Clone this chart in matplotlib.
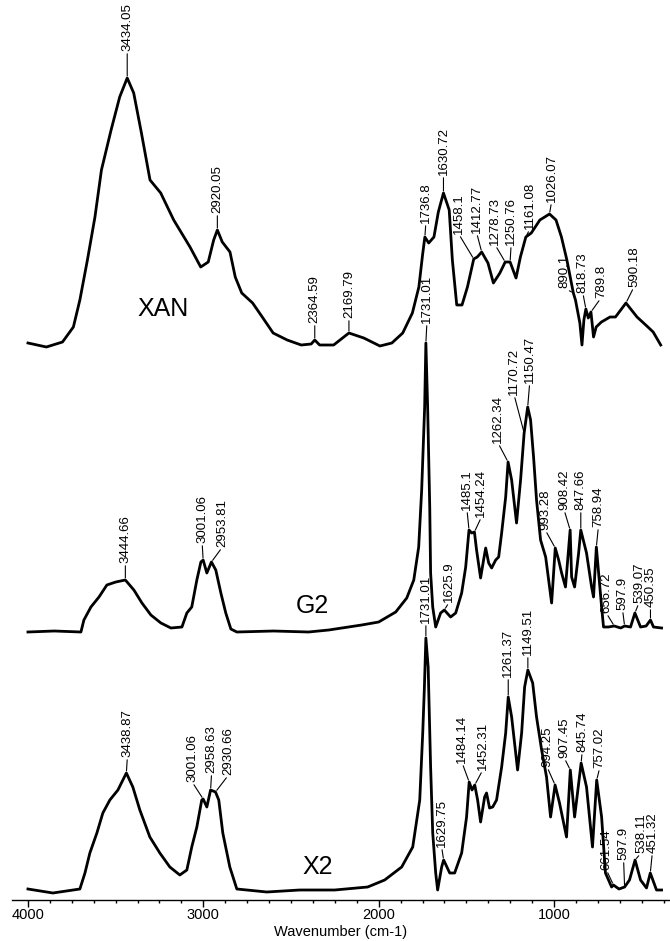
import numpy as np
import matplotlib
matplotlib.use('Agg')
import matplotlib.pyplot as plt
from matplotlib.ticker import MultipleLocator

plt.rcParams['font.family'] = ['Liberation Sans', 'DejaVu Sans']

# ---- XAN spectrum (wavenumber cm-1, intensity a.u.) ----
xan_wn = [4000, 3895, 3803, 3741, 3704, 3661, 3618, 3581, 3526, 3477, 3434.05, 3397, 3353, 3304,
          3243, 3169, 3076, 3015, 2972, 2941, 2920.05, 2892, 2848, 2818, 2781, 2719, 2664, 2602,
          2522, 2442, 2385, 2364.59, 2337, 2257, 2169.79, 2085, 1993, 1925, 1863, 1808, 1771, 1750,
          1736.8, 1715, 1685, 1660, 1630.72, 1598, 1580, 1555, 1525, 1494, 1458.1, 1438, 1412.77,
          1377, 1346, 1309, 1278.73, 1250.76, 1217, 1192, 1161.08, 1130, 1081, 1026.07, 989, 958,
          927, 890.1, 878, 853, 841, 830, 818.73, 805, 789.8, 775, 760, 730, 681, 650, 620, 590.18,
          527, 465, 435, 392]
xan_int = [2, -2, 3, 18, 45, 85, 128, 175, 215, 248, 267, 252, 212, 165,
           152, 125, 98, 78, 83, 105, 115, 103, 93, 68, 52, 42, 28, 12,
           5, 0, 1, 5, 0, 0, 12, 7, -1, 2, 12, 32, 58, 90,
           108, 102, 108, 133, 152, 135, 85, 40, 40, 58, 86, 88, 93,
           82, 62, 72, 83, 83, 67, 88, 108, 112, 125, 131, 125, 108,
           85, 52, 45, 22, 0, 25, 36, 27, 33, 8, 18, 23, 28, 28, 35, 42,
           28, 18, 13, 0]
xan_peaks = ['3434.05', '2920.05', '2364.59', '2169.79', '1736.8', '1630.72', '1458.1',
             '1412.77', '1278.73', '1250.76', '1161.08', '1026.07', '890.1', '818.73',
             '789.8', '590.18']

# ---- G2 spectrum ----
g2_wn = [4000, 3850, 3698, 3681, 3641, 3595, 3550, 3499, 3444.66, 3396, 3350, 3299, 3242, 3185,
         3122, 3094, 3066, 3037, 3014, 3001.06, 2980, 2953.81, 2929, 2900, 2872, 2843, 2809,
         2600, 2400, 2285, 2097, 2000, 1903, 1840, 1800, 1772, 1755, 1738, 1731.01, 1721, 1709,
         1704, 1692, 1675, 1647, 1625.9, 1590, 1561, 1527, 1504, 1485.1, 1470, 1454.24, 1442,
         1419, 1402, 1390, 1373, 1356, 1333, 1316, 1299, 1276, 1262.34, 1242, 1214, 1191,
         1170.72, 1150.47, 1134, 1117, 1100, 1077, 1048, 1031, 1014, 993.28, 974, 957, 935,
         908.42, 900, 883, 860, 847.66, 815, 786, 775, 758.94, 746, 729, 718, 690, 656.72, 620,
         597.9, 564, 539.07, 507, 475, 450.35, 433, 387]
g2_int = [0, 1, 0, 12, 25, 35, 47, 50, 52, 42, 29, 17, 9, 4,
          5, 19, 25, 52, 70, 72, 59, 70, 62, 39, 19, 3, 0,
          1, 0, 2, 7, 10, 20, 34, 52, 85, 142, 225, 289, 225, 125,
          59, 25, 5, 19, 22, 15, 19, 39, 65, 102, 99, 100, 82,
          54, 72, 84, 69, 64, 72, 75, 99, 135, 170, 152, 109, 152,
          199, 225, 212, 175, 132, 92, 75, 52, 29, 84, 72, 59, 45,
          102, 55, 45, 79, 102, 79, 45, 35, 85, 59, 25, 5, 5, 6, 4,
          6, 5, 19, 5, 6, 12, 5, 4]
g2_peaks = ['3444.66', '3001.06', '2953.81', '1731.01', '1625.9', '1485.1', '1454.24',
            '1262.34', '1170.72', '1150.47', '993.28', '908.42', '847.66', '758.94',
            '656.72', '597.9', '539.07', '450.35']

# ---- X2 spectrum ----
x2_wn = [4000, 3858, 3704, 3675, 3647, 3607, 3573, 3533, 3487, 3438.87, 3402, 3362, 3305, 3248,
         3191, 3134, 3094, 3066, 3037, 3009, 3001.06, 2980, 2958.63, 2930.66, 2912, 2889, 2849,
         2809, 2638, 2450, 2251, 2063, 1966, 1869, 1806, 1766, 1749, 1740, 1731.01, 1718, 1704,
         1692, 1675, 1664, 1641, 1629.75, 1595, 1567, 1527, 1499, 1484.14, 1468, 1452.31, 1436,
         1419, 1396, 1385, 1368, 1350, 1328, 1299, 1276, 1261.37, 1242, 1208, 1185, 1168,
         1149.51, 1122, 1100, 1071, 1043, 1020, 994.25, 969, 929, 907.45, 883, 845.74, 815, 781,
         757.02, 729, 707, 672, 661.54, 630, 597.9, 570, 538.11, 507, 473, 451.32, 416, 387]
x2_int = [1, -3, 1, 17, 37, 57, 77, 90, 100, 117, 103, 80, 53, 37,
          23, 15, 20, 43, 63, 90, 91, 83, 100, 98, 90, 57, 23,
          1, -2, 0, 0, 3, 10, 23, 43, 90, 157, 200, 252, 223, 123,
          57, 17, 0, 23, 30, 17, 17, 37, 73, 108, 100, 105, 90,
          68, 93, 97, 82, 83, 90, 123, 157, 193, 173, 120, 157, 203,
          220, 207, 173, 140, 113, 73, 105, 87, 53, 120, 73, 127, 103, 43,
          110, 73, 17, 3, 5, 1, 3, 10, 30, 10, 2, 17, 0, 0]
x2_peaks = ['3438.87', '3001.06', '2958.63', '2930.66', '1731.01', '1629.75', '1484.14',
            '1452.31', '1261.37', '1149.51', '994.25', '907.45', '845.74', '757.02',
            '661.54', '597.9', '538.11', '451.32']

# label placement (pixel shift of text bottom from the peak: dx, dy)
xan_shift = [(0, 27), (0, 17), (0, 17), (0, 15), (1, 14), (0, 18), (-15, 25), (-5, 19),
             (-10, 17), (1, 17), (4, 8), (2, 12), (-9, 5), (-3, 16), (10, 14), (8, 16)]
g2_shift = [(0, 17), (-1, 17), (11, 15), (1, 20), (5, 8), (-2, 20), (7, 15), (-10, 19),
            (-10, 38), (2, 24), (-10, 18), (-6, 20), (0, 20), (2, 20), (-8, 13), (-2, 16),
            (4, 10), (0, 13)]
x2_shift = [(1, 16), (-11, 17), (1, 17), (13, 17), (0, 15), (-2, 13), (-7, 19), (8, 15),
            (0, 20), (0, 15), (-8, 18), (-6, 12), (1, 11), (3, 12), (-7, 15), (-1, 27),
            (6, 7), (2, 20)]

spectra = [
    ('XAN', xan_wn, xan_int, xan_peaks, xan_shift, 555, (3231, 591)),
    ('G2', g2_wn, g2_int, g2_peaks, g2_shift, 268, (2376, 294)),
    ('X2', x2_wn, x2_int, x2_peaks, x2_shift, 10, (2348, 33)),
]

fig = plt.figure(figsize=(6.7, 9.41), dpi=100)
ax = fig.add_axes([12 / 670, 41 / 941, 658 / 670, 900 / 941])

for name, wn, inten, peaks, shift, off, name_pos in spectra:
    wn = np.asarray(wn, dtype=float)
    y = np.asarray(inten, dtype=float) + off
    ax.plot(wn, y, color='black', lw=2.0, solid_joinstyle='round')
    for lbl, (dx, dy) in zip(peaks, shift):
        pw = float(lbl)
        py = np.interp(pw, wn[::-1], y[::-1])
        ax.annotate(lbl, xy=(pw, py), xytext=(dx, dy), textcoords='offset pixels',
                    rotation=90, ha='center', va='bottom', fontsize=9.5,
                    annotation_clip=False,
                    arrowprops=dict(arrowstyle='-', lw=0.8, color='black',
                                    shrinkA=0, shrinkB=1.5, relpos=(0.5, 0)))
    ax.text(name_pos[0], name_pos[1], name, fontsize=18, ha='center', va='center')

ax.set_xlim(4091, 339)
ax.set_ylim(0, 900)
ax.set_xticks([4000, 3000, 2000, 1000])
ax.xaxis.set_minor_locator(MultipleLocator(125))
ax.tick_params(axis='x', which='major', direction='out', length=5, width=1, pad=1,
               labelsize=10.5)
ax.tick_params(axis='x', which='minor', direction='out', length=2.5, width=1)
ax.set_yticks([])
for side in ['left', 'right', 'top']:
    ax.spines[side].set_visible(False)
ax.spines['bottom'].set_linewidth(1)
ax.set_xlabel('Wavenumber (cm-1)', fontsize=10.5, labelpad=2)

fig.savefig('out.png', dpi=100)
